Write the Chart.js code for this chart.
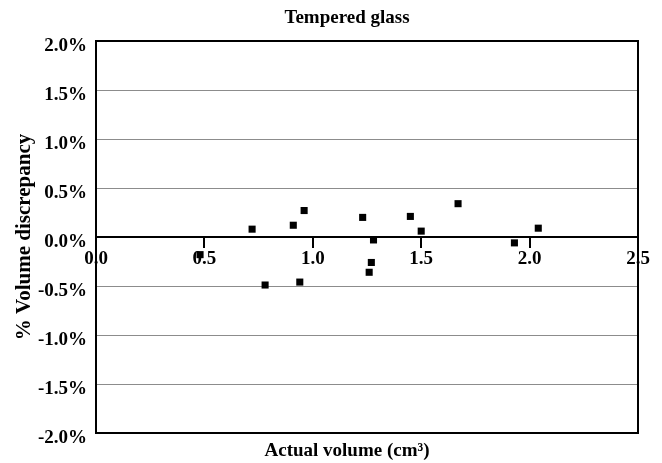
<!DOCTYPE html>
<html>
<head>
<meta charset="utf-8">
<script src="https://cdn.jsdelivr.net/npm/chart.js@4.4.0/dist/chart.umd.min.js"></script>
<style>
  html, body { margin: 0; padding: 0; background: #fff; }
  #wrap { width: 662px; height: 463px; }
</style>
</head>
<body>
<div id="wrap"><canvas id="glass-chart" width="662" height="463"></canvas></div>
<script>
// data
const actualVolume = [0.48, 0.72, 0.78, 0.91, 0.94, 0.96, 1.23, 1.26, 1.27, 1.28, 1.45, 1.50, 1.67, 1.93, 2.04];
const volumeDiscrepancy = [-0.18, 0.08, -0.49, 0.12, -0.46, 0.27, 0.20, -0.36, -0.26, -0.03, 0.21, 0.06, 0.34, -0.06, 0.09];
const xTicks = [0.0, 0.5, 1.0, 1.5, 2.0, 2.5];
const yTicks = [-2.0, -1.5, -1.0, -0.5, 0.0, 0.5, 1.0, 1.5, 2.0];
const chartTitle = 'Tempered glass';
const xTitle = 'Actual volume (cm³)';
const yTitle = '% Volume discrepancy';

const serif = 'Liberation Serif, Times New Roman, serif';

// frame around the plot area + the two centred titles
const frame = {
  id: 'frame',
  afterDatasetsDraw(chart) {
    const a = chart.chartArea;
    const ctx = chart.ctx;
    ctx.save();
    ctx.strokeStyle = '#000';
    ctx.lineWidth = 2;
    ctx.strokeRect(a.left, a.top, a.right - a.left, a.bottom - a.top);

    // titles sit a bit left of the plot centre, like the original
    const cx = (a.left + a.right) / 2 - 20;
    ctx.fillStyle = '#000';
    ctx.textAlign = 'center';
    ctx.textBaseline = 'middle';
    ctx.font = 'bold 19px ' + serif;
    ctx.fillText(chartTitle, cx, 18);
    ctx.fillText(xTitle, cx, a.bottom + 18);
    ctx.restore();
  }
};

const ctx = document.getElementById('glass-chart').getContext('2d');
new Chart(ctx, {
  type: 'scatter',
  data: {
    datasets: [{
      label: chartTitle,
      data: actualVolume.map((v, i) => ({ x: v, y: volumeDiscrepancy[i] })),
      pointStyle: 'rect',
      pointRadius: 5,
      pointHoverRadius: 5,
      backgroundColor: '#000',
      borderColor: '#000',
      borderWidth: 0
    }]
  },
  options: {
    responsive: false,
    animation: false,
    layout: { padding: { left: 0, right: 24, top: 41, bottom: 30 } },
    plugins: {
      legend: { display: false },
      tooltip: { enabled: false }
    },
    scales: {
      x: {
        type: 'linear',
        position: { y: 0 },
        min: 0,
        max: 2.5,
        afterBuildTicks: s => { s.ticks = xTicks.map(v => ({ value: v })); },
        border: { display: true, color: '#000', width: 2 },
        grid: { drawOnChartArea: false, drawTicks: true, tickLength: 10, color: '#000', lineWidth: 2 },
        ticks: {
          color: '#000',
          padding: 1,
          maxRotation: 0,
          font: { family: serif, size: 19, weight: 'bold' },
          callback: v => v.toFixed(1)
        }
      },
      y: {
        min: -2,
        max: 2,
        afterBuildTicks: s => { s.ticks = yTicks.map(v => ({ value: v })); },
        afterFit: s => { s.width = 96; },
        border: { display: false },
        grid: {
          drawTicks: false,
          color: c => (c.tick.value === 0 ? 'rgba(0,0,0,0)' : '#8c8c8c'),
          lineWidth: 1
        },
        ticks: {
          color: '#000',
          padding: 9,
          labelOffset: 5,
          font: { family: serif, size: 19, weight: 'bold' },
          callback: v => v.toFixed(1) + '%'
        },
        title: {
          display: true,
          text: yTitle,
          color: '#000',
          font: { family: serif, size: 21, weight: 'bold' },
          padding: { top: 12, bottom: 0 }
        }
      }
    }
  },
  plugins: [frame]
});
</script>
</body>
</html>
